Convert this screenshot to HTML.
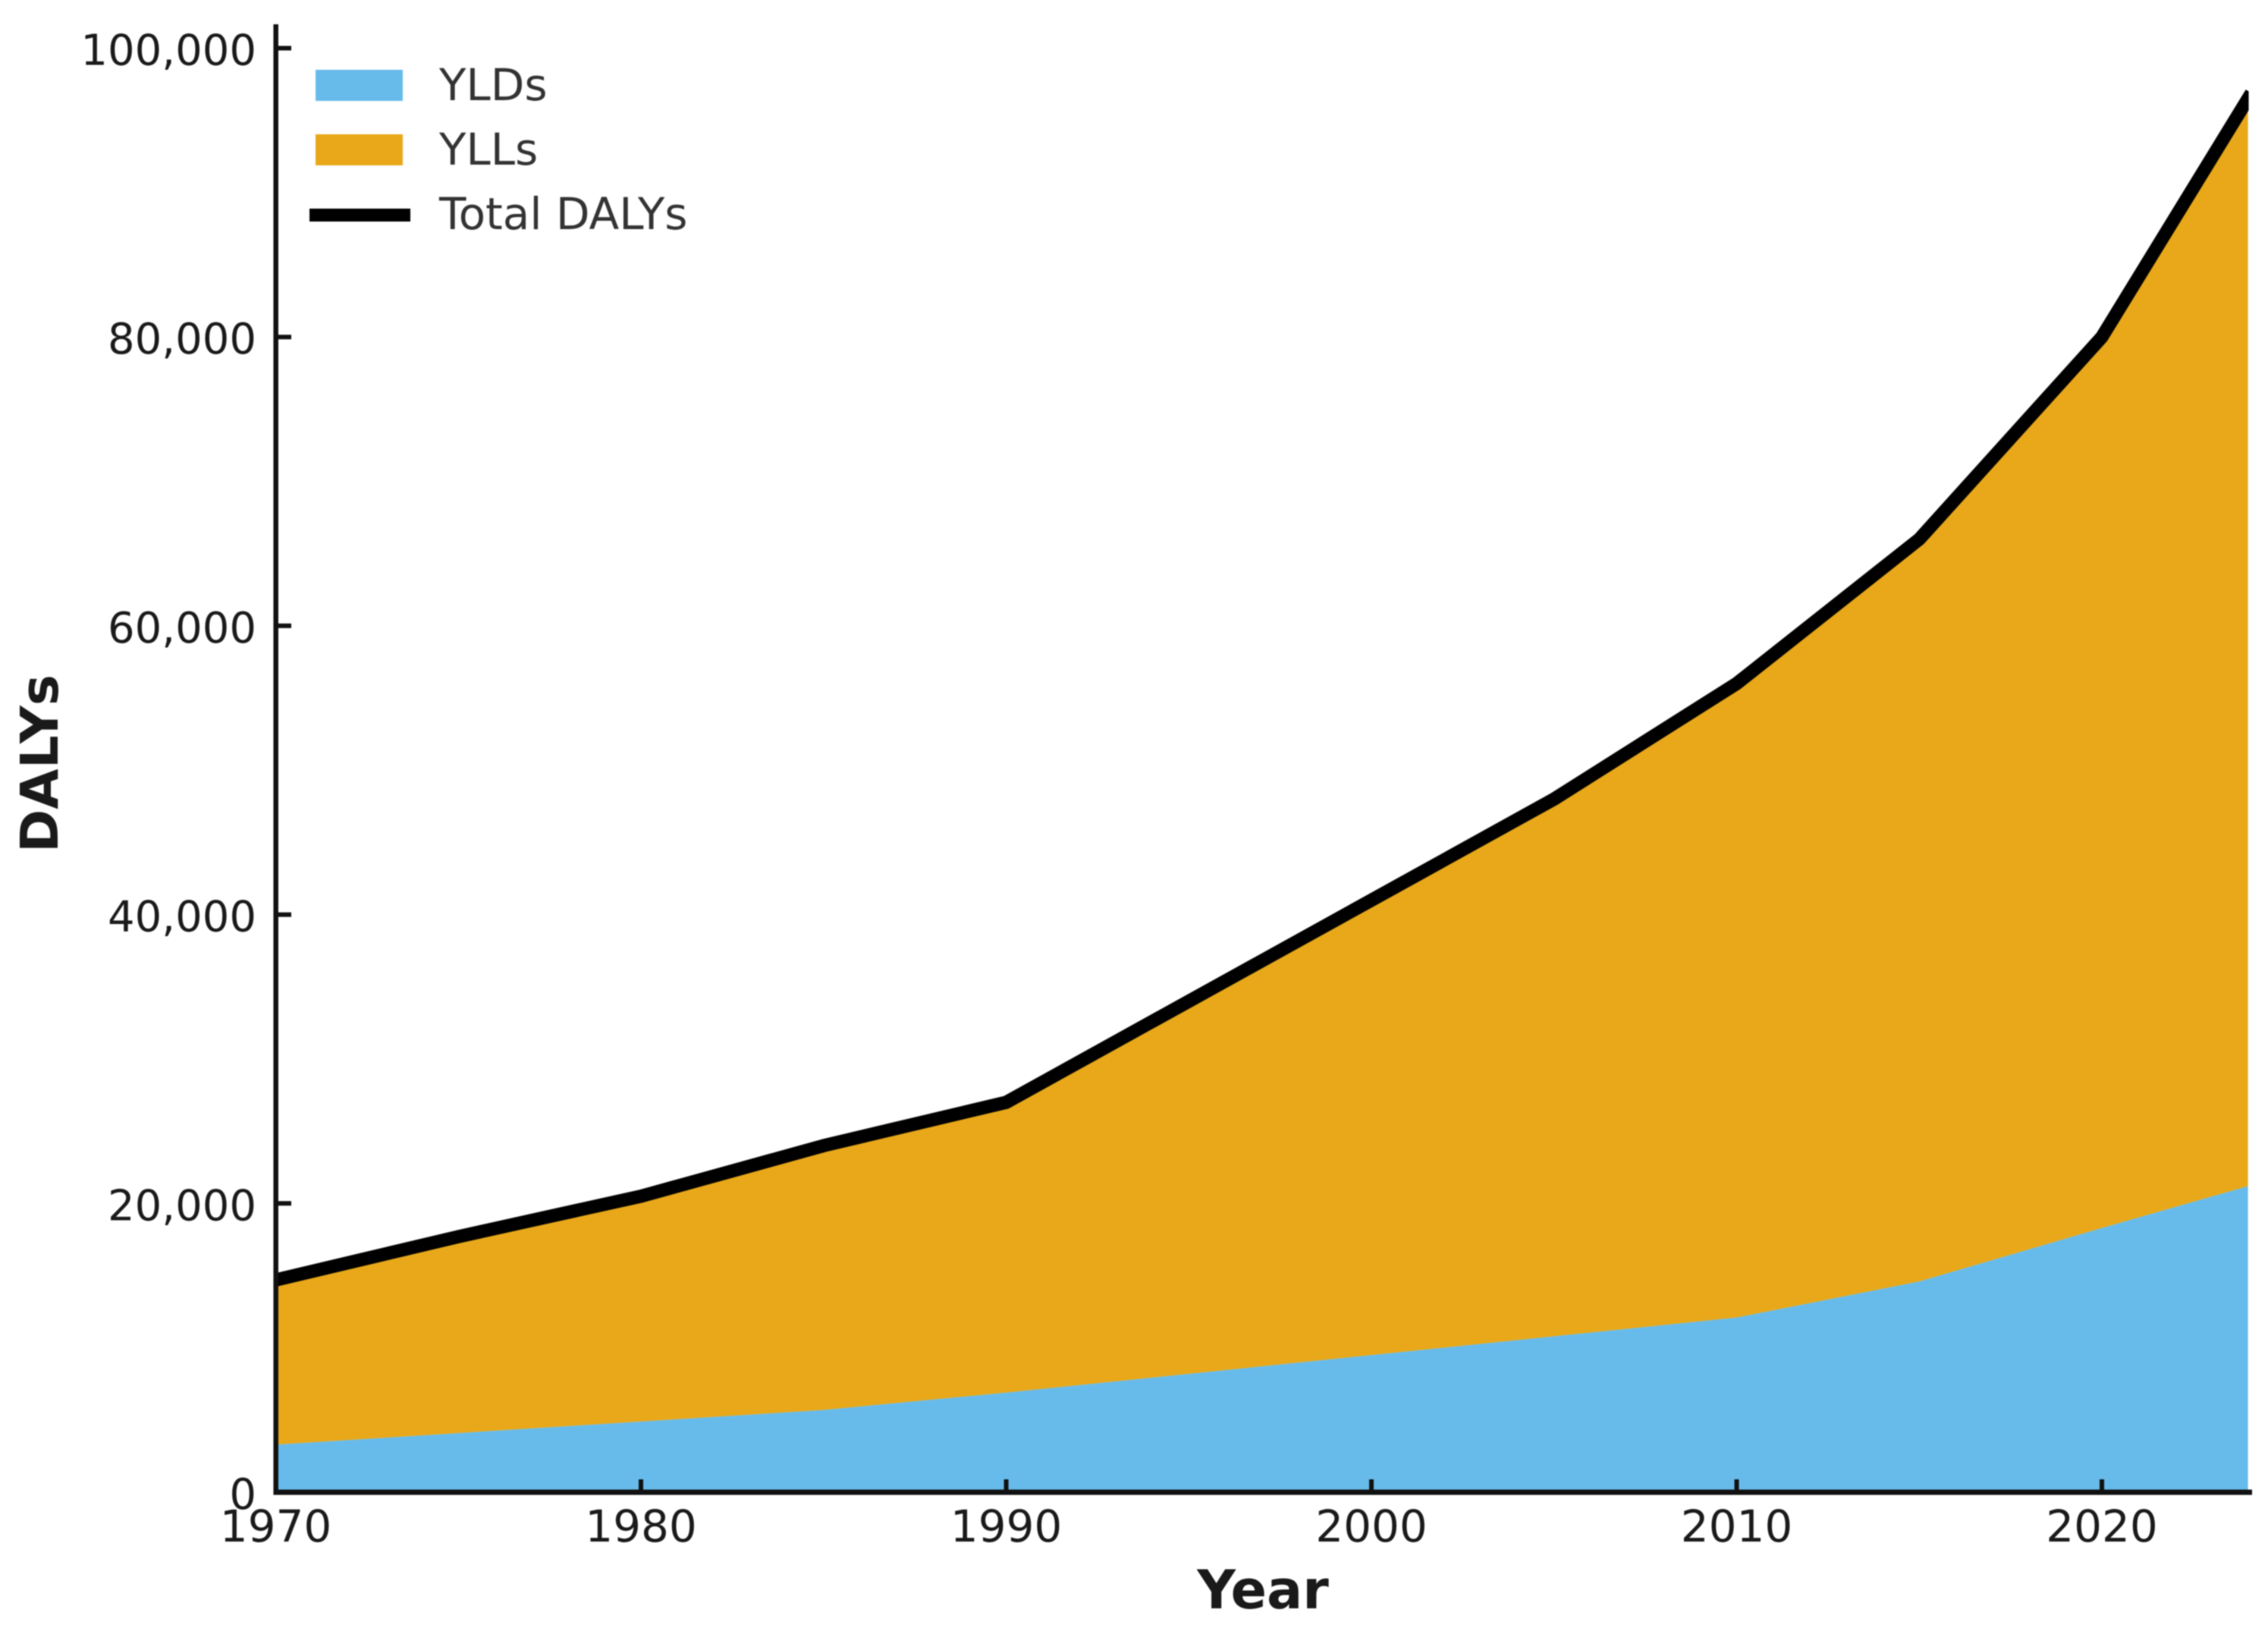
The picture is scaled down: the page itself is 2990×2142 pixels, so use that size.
<!DOCTYPE html>
<html lang="en">
<head>
<meta charset="utf-8">
<title>DALYs by year</title>
<style>
html,body{margin:0;padding:0;background:#fff;width:2990px;height:2142px;overflow:hidden}
svg{display:block;filter:blur(0.7px)}
text{font-family:"DejaVu Sans","Liberation Sans",sans-serif}
.x-tick-text{font-size:58px;fill:#1a1a1a}
.y-tick-text{font-size:56px;fill:#1a1a1a}
.legend-text{font-size:58px;fill:#333}
.axis-title{font-weight:700;fill:#1a1a1a}
</style>
</head>
<body>
<svg id="chart" xmlns="http://www.w3.org/2000/svg" width="2990" height="2142" viewBox="0 0 2990 2142">
  <defs><clipPath id="plot-clip"><rect x="363" y="20" width="2601.5" height="1950"/></clipPath></defs>
  <g id="marks" clip-path="url(#plot-clip)"></g>
  <g id="axes"></g>
  <text class="axis-title" style="font-size:70px" x="1665" y="2120" text-anchor="middle">Year</text>
  <text class="axis-title" style="font-size:69px" transform="translate(76,1006.5) rotate(-90)" text-anchor="middle">DALYs</text>
  <g>
    <rect x="416" y="92" width="115" height="41" fill="#56B4E9" fill-opacity="0.9"/>
    <text class="legend-text" x="579" y="132">YLDs</text>
    <rect x="416" y="177" width="115" height="41" fill="#E69F00" fill-opacity="0.9"/>
    <text class="legend-text" x="579" y="217">YLLs</text>
    <rect x="408" y="275" width="133" height="17" fill="#000"/>
    <text class="legend-text" x="579" y="302">Total DALYs</text>
  </g>
</svg>
<script>
const years = [1970, 1975, 1980, 1985, 1990, 1995, 2000, 2005, 2010, 2015, 2020, 2024];
const yldValues = [3300, 4100, 4900, 5700, 6900, 8200, 9500, 10800, 12100, 14600, 18300, 21200];
const yllValues = [11400, 13600, 15600, 18300, 20100, 25800, 31500, 37200, 43900, 51400, 61700, 75300];
const totalValues = [14700, 17700, 20500, 24000, 27000, 34000, 41000, 48000, 56000, 66000, 80000, 96500];
const xTickValues = [1970, 1980, 1990, 2000, 2010, 2020];
const yTickValues = [0, 20000, 40000, 60000, 80000, 100000];

const NS = 'http://www.w3.org/2000/svg';
const xScale = function (year) { return 363.5 + (year - 1970) * 48.15; };
const yScale = function (value) { return 1967 - value * 0.019035; };
const marks = document.getElementById('marks');
const axes = document.getElementById('axes');

function make(tag, attrs, parent) {
  const el = document.createElementNS(NS, tag);
  Object.keys(attrs).forEach(function (k) { el.setAttribute(k, attrs[k]); });
  parent.appendChild(el);
  return el;
}

function areaPath(lower, upper) {
  const top = years.map(function (y, i) { return xScale(y) + ',' + yScale(upper[i]); });
  const bottom = years.map(function (y, i) { return xScale(y) + ',' + yScale(lower[i]); }).reverse();
  return 'M' + top.join('L') + 'L' + bottom.join('L') + 'Z';
}

const zeros = years.map(function () { return 0; });
const stackTop = years.map(function (y, i) { return yldValues[i] + yllValues[i]; });

const yldArea = make('path', { d: areaPath(zeros, yldValues), fill: '#56B4E9', 'fill-opacity': 0.9 }, marks);



const yllArea = make('path', { d: areaPath(yldValues, stackTop), fill: '#E69F00', 'fill-opacity': 0.9 }, marks);



const totalLine = make('polyline', {
  points: years.map(function (y, i) { return xScale(y) + ',' + yScale(totalValues[i]); }).join(' '),
  fill: 'none', stroke: '#000', 'stroke-width': 17.5, 'stroke-linejoin': 'round', 'stroke-linecap': 'square'
}, marks);



const ySpine = make('line', { x1: 363.7, x2: 363.7, y1: 32, y2: 1970.5, stroke: '#111', 'stroke-width': 6.5 }, axes);



const xSpine = make('line', { x1: 360.5, x2: 2969, y1: 1967, y2: 1967, stroke: '#111', 'stroke-width': 7 }, axes);



xTickValues.forEach(function (tickYear) {
  const x = xScale(tickYear);
  const mark = make('line', { x1: x, x2: x, y1: 1950, y2: 1967, stroke: '#111', 'stroke-width': 6 }, axes);
  
  
  const label = make('text', { x: x, y: 2032, 'text-anchor': 'middle', class: 'x-tick-text' }, axes);
  
  
  label.textContent = String(tickYear);
});

yTickValues.forEach(function (tickValue) {
  const y = yScale(tickValue);
  const mark = make('line', { x1: 364, x2: 384, y1: y, y2: y, stroke: '#111', 'stroke-width': 6 }, axes);
  
  
  const label = make('text', { x: 338, y: y + 22, 'text-anchor': 'end', class: 'y-tick-text' }, axes);
  
  
  label.textContent = tickValue.toLocaleString('en-US');
});
</script>
</body>
</html>
